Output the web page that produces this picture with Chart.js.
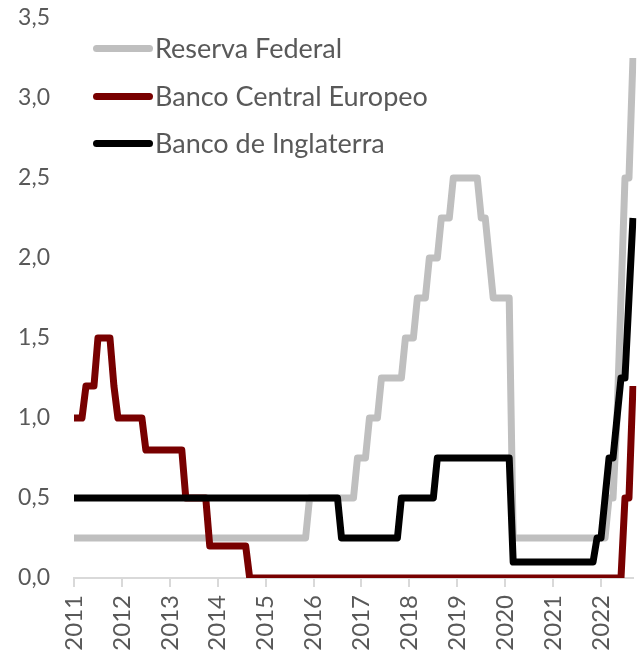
<!DOCTYPE html>
<html>
<head>
<meta charset="utf-8">
<script src="https://cdn.jsdelivr.net/npm/chart.js@4.4.1/dist/chart.umd.min.js"></script>
<style>
  html, body { margin: 0; padding: 0; background: #ffffff; }
  #wrap { position: relative; width: 638px; height: 652px; }
  #legend { position: absolute; left: 0; top: 0; font-family: Lato, "Open Sans", sans-serif; color: #595959; }
  .item { position: absolute; left: 93px; height: 30px; display: flex; align-items: center; white-space: nowrap; }
  .swatch { width: 60px; height: 7px; border-radius: 4px; margin-right: 2px; }
  .lbl { font-size: 27px; line-height: 30px; }
</style>
</head>
<body>
<div id="wrap">
  <canvas id="c" width="638" height="652"></canvas>
  <div id="legend"></div>
</div>
<script>
// Category axis: monthly observations, January 2011 to September 2022
const years = ['2011','2012','2013','2014','2015','2016','2017','2018','2019','2020','2021','2022'];
const monthCodes = ['01','02','03','04','05','06','07','08','09','10','11','12'];
const lastYearMonths = 9;

const seriesNames = ['Reserva Federal', 'Banco Central Europeo', 'Banco de Inglaterra'];

// Reserva Federal (end-of-month policy rate, %)
const fedValues = [
  0.25,0.25,0.25,0.25,0.25,0.25,0.25,0.25,0.25,0.25,0.25,0.25,
  0.25,0.25,0.25,0.25,0.25,0.25,0.25,0.25,0.25,0.25,0.25,0.25,
  0.25,0.25,0.25,0.25,0.25,0.25,0.25,0.25,0.25,0.25,0.25,0.25,
  0.25,0.25,0.25,0.25,0.25,0.25,0.25,0.25,0.25,0.25,0.25,0.25,
  0.25,0.25,0.25,0.25,0.25,0.25,0.25,0.25,0.25,0.25,0.25,0.5,
  0.5,0.5,0.5,0.5,0.5,0.5,0.5,0.5,0.5,0.5,0.5,0.75,
  0.75,0.75,1.0,1.0,1.0,1.25,1.25,1.25,1.25,1.25,1.25,1.5,
  1.5,1.5,1.75,1.75,1.75,2.0,2.0,2.0,2.25,2.25,2.25,2.5,
  2.5,2.5,2.5,2.5,2.5,2.5,2.25,2.25,2.0,1.75,1.75,1.75,
  1.75,1.75,0.25,0.25,0.25,0.25,0.25,0.25,0.25,0.25,0.25,0.25,
  0.25,0.25,0.25,0.25,0.25,0.25,0.25,0.25,0.25,0.25,0.25,0.25,
  0.25,0.25,0.5,0.5,1.0,1.75,2.5,2.5,3.25
];

// Banco Central Europeo (end-of-month policy rate, %, as plotted)
const ecbValues = [
  1.0,1.0,1.0,1.2,1.2,1.2,1.5,1.5,1.5,1.5,1.2,1.0,
  1.0,1.0,1.0,1.0,1.0,1.0,0.8,0.8,0.8,0.8,0.8,0.8,
  0.8,0.8,0.8,0.8,0.5,0.5,0.5,0.5,0.5,0.5,0.2,0.2,
  0.2,0.2,0.2,0.2,0.2,0.2,0.2,0.2,0,0,0,0,
  0,0,0,0,0,0,0,0,0,0,0,0,
  0,0,0,0,0,0,0,0,0,0,0,0,
  0,0,0,0,0,0,0,0,0,0,0,0,
  0,0,0,0,0,0,0,0,0,0,0,0,
  0,0,0,0,0,0,0,0,0,0,0,0,
  0,0,0,0,0,0,0,0,0,0,0,0,
  0,0,0,0,0,0,0,0,0,0,0,0,
  0,0,0,0,0,0,0.5,0.5,1.2
];

// Banco de Inglaterra (end-of-month policy rate, %)
const boeValues = [
  0.5,0.5,0.5,0.5,0.5,0.5,0.5,0.5,0.5,0.5,0.5,0.5,
  0.5,0.5,0.5,0.5,0.5,0.5,0.5,0.5,0.5,0.5,0.5,0.5,
  0.5,0.5,0.5,0.5,0.5,0.5,0.5,0.5,0.5,0.5,0.5,0.5,
  0.5,0.5,0.5,0.5,0.5,0.5,0.5,0.5,0.5,0.5,0.5,0.5,
  0.5,0.5,0.5,0.5,0.5,0.5,0.5,0.5,0.5,0.5,0.5,0.5,
  0.5,0.5,0.5,0.5,0.5,0.5,0.5,0.25,0.25,0.25,0.25,0.25,
  0.25,0.25,0.25,0.25,0.25,0.25,0.25,0.25,0.25,0.25,0.5,0.5,
  0.5,0.5,0.5,0.5,0.5,0.5,0.5,0.75,0.75,0.75,0.75,0.75,
  0.75,0.75,0.75,0.75,0.75,0.75,0.75,0.75,0.75,0.75,0.75,0.75,
  0.75,0.75,0.1,0.1,0.1,0.1,0.1,0.1,0.1,0.1,0.1,0.1,
  0.1,0.1,0.1,0.1,0.1,0.1,0.1,0.1,0.1,0.1,0.1,0.25,
  0.25,0.5,0.75,0.75,1.0,1.25,1.25,1.75,2.25
];

const yTicks = [0, 0.5, 1.0, 1.5, 2.0, 2.5, 3.0, 3.5];

const seriesColors = ['#bfbfbf', '#780000', '#000000'];

// Build monthly category labels
const categories = [];
years.forEach((y, yi) => {
  const n = (yi === years.length - 1) ? lastYearMonths : 12;
  for (let m = 0; m < n; m++) categories.push(y + '-' + monthCodes[m]);
});

const valueSets = [fedValues, ecbValues, boeValues];
const drawOrder = [2, 1, 0]; // Banco de Inglaterra drawn on top

const datasets = seriesNames.map((name, i) => ({
  label: name,
  data: valueSets[i],
  borderColor: seriesColors[i],
  backgroundColor: seriesColors[i],
  borderWidth: 7,
  pointRadius: 0,
  pointHoverRadius: 0,
  tension: 0,
  fill: false,
  borderJoinStyle: 'round',
  borderCapStyle: 'butt',
  order: drawOrder[i]
}));

const textColor = '#595959';
const fontFamily = 'Lato, "Open Sans", sans-serif';

new Chart(document.getElementById('c'), {
  type: 'line',
  data: { labels: categories, datasets },
  options: {
    responsive: false,
    animation: false,
    devicePixelRatio: 1,
    layout: { padding: { left: 0, right: 3, top: 18, bottom: 0 } },
    plugins: { legend: { display: false }, tooltip: { enabled: false } },
    scales: {
      x: {
        type: 'category',
        offset: false,
        grid: {
          display: true,
          drawOnChartArea: false,
          drawTicks: true,
          tickLength: 9,
          color: '#d9d9d9',
          lineWidth: 2
        },
        border: { display: true, color: '#d9d9d9', width: 2 },
        ticks: {
          autoSkip: false,
          minRotation: 90,
          maxRotation: 90,
          padding: 8,
          color: textColor,
          font: { family: fontFamily, size: 24 },
          callback: function (value) {
            const lab = this.getLabelForValue(value);
            return lab.endsWith('-01') ? lab.slice(0, 4) : null;
          }
        },
        afterFit: (s) => { s.height = 74; }
      },
      y: {
        min: 0,
        max: 3.5,
        grid: { display: false, drawTicks: false },
        border: { display: false },
        afterBuildTicks: (s) => { s.ticks = yTicks.map(v => ({ value: v })); },
        ticks: {
          padding: 24,
          color: textColor,
          font: { family: fontFamily, size: 23 },
          callback: (v) => v.toFixed(1).replace('.', ',')
        },
        afterFit: (s) => { s.width = 74; s.paddingTop = 0; s.paddingBottom = 0; }
      }
    }
  }
});

// HTML legend built from the series
const legendTops = [33, 81, 128];
const legend = document.getElementById('legend');
seriesNames.forEach((name, i) => {
  const item = document.createElement('div');
  item.className = 'item';
  item.style.top = legendTops[i] + 'px';
  const sw = document.createElement('div');
  sw.className = 'swatch';
  sw.style.background = seriesColors[i];
  const lb = document.createElement('span');
  lb.className = 'lbl';
  lb.textContent = name;
  item.appendChild(sw);
  item.appendChild(lb);
  legend.appendChild(item);
});
</script>
</body>
</html>
